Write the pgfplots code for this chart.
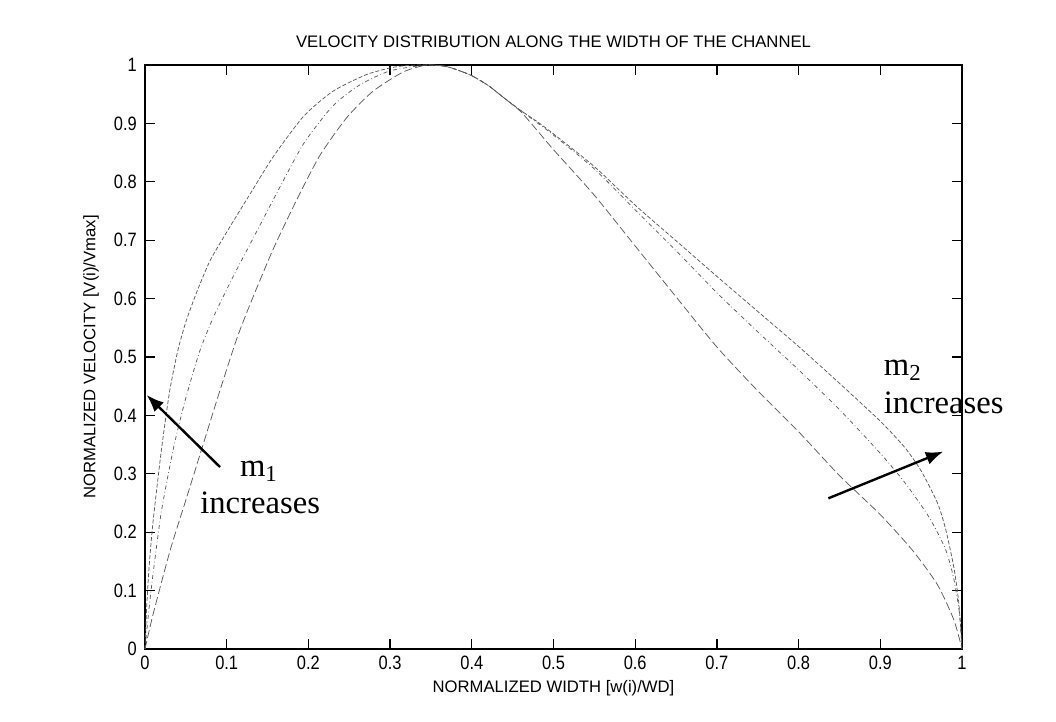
\documentclass[border=0pt]{standalone}
\usepackage{fontspec}
\setmainfont{Liberation Sans}
\newfontfamily\serif{Liberation Serif}
\newfontfamily\narrow[FakeStretch=0.85]{Liberation Sans}
\usepackage{pgfplots}
\pgfplotsset{compat=1.18}
\usetikzlibrary{arrows.meta}
\begin{document}
\begin{tikzpicture}
\useasboundingbox (0,0) rectangle (792pt,540.75pt);
\begin{axis}[
  at={(108.75pt,54pt)}, anchor=south west,
  scale only axis, width=612.75pt, height=438pt,
  xmin=0, xmax=1, ymin=0, ymax=1,
  clip=false,
  xtick={0,0.1,0.2,0.3,0.4,0.5,0.6,0.7,0.8,0.9,1},
  ytick={0,0.1,0.2,0.3,0.4,0.5,0.6,0.7,0.8,0.9,1},
  xticklabels={0,0.1,0.2,0.3,0.4,0.5,0.6,0.7,0.8,0.9,1},
  yticklabels={0,0.1,0.2,0.3,0.4,0.5,0.6,0.7,0.8,0.9,1},
  tick align=inside,
  major tick length=7.5pt,
  every tick/.style={black, line width=1pt},
  axis line style={black, line width=1.3pt},
  xticklabel style={font=\narrow\fontsize{14.5}{16}\selectfont, inner sep=0pt, anchor=north, yshift=-5.25pt},
  yticklabel style={font=\narrow\fontsize{14.5}{16}\selectfont, inner sep=0pt, anchor=east, xshift=-6pt},
  every axis title shift=0pt,
  title={VELOCITY DISTRIBUTION ALONG THE WIDTH OF THE CHANNEL},
  title style={font=\fontsize{12.5}{15}\selectfont, at={(axis description cs:0.5,1)}, anchor=base, yshift=12.75pt, inner sep=0pt},
  xlabel={NORMALIZED WIDTH [w(i)/WD]},
  xlabel style={font=\fontsize{12.5}{15}\selectfont, at={(axis description cs:0.5,-0.0668)}, anchor=center, inner sep=0pt},
  ylabel={NORMALIZED VELOCITY [V(i)/Vmax]},
  ylabel style={font=\fontsize{12.5}{15}\selectfont, at={(axis description cs:-0.0661,0.5)}, anchor=center, inner sep=0pt, rotate=0},
]
% series 1: steepest on the left, outermost on the right
\addplot[black!65, line width=0.55pt, dash pattern=on 3pt off 1.5pt, smooth, tension=0.4] coordinates {
(0,0) (0.002,0.07) (0.005,0.14) (0.01,0.22) (0.02,0.34) (0.03,0.44) (0.04,0.51) (0.05,0.56)
(0.063,0.61) (0.08,0.666) (0.104,0.723) (0.129,0.78) (0.157,0.843) (0.194,0.912) (0.23,0.955)
(0.27,0.983) (0.30,0.995) (0.32,0.999) (0.345,1.0) (0.37,0.997) (0.398,0.983) (0.42,0.965)
(0.44,0.943) (0.46,0.922) (0.48,0.903) (0.50,0.882) (0.55,0.826) (0.60,0.76) (0.65,0.699)
(0.70,0.638) (0.75,0.578) (0.80,0.518) (0.85,0.455) (0.90,0.39) (0.93,0.345) (0.95,0.305)
(0.97,0.25) (0.98,0.205) (0.99,0.14) (0.996,0.08) (1.0,0)
};
% series 2: middle
\addplot[black!65, line width=0.55pt, dash dot, smooth, tension=0.4] coordinates {
(0,0) (0.005,0.07) (0.01,0.13) (0.02,0.235) (0.035,0.345) (0.05,0.43) (0.067,0.51)
(0.084,0.569) (0.108,0.638) (0.133,0.705) (0.161,0.78) (0.194,0.865) (0.23,0.93)
(0.263,0.966) (0.30,0.99) (0.345,1.0) (0.37,0.997) (0.398,0.983) (0.42,0.965)
(0.44,0.943) (0.46,0.922) (0.48,0.901) (0.50,0.880) (0.55,0.822) (0.60,0.752) (0.65,0.682)
(0.70,0.61) (0.75,0.543) (0.80,0.478) (0.85,0.41) (0.90,0.335) (0.93,0.285) (0.96,0.225)
(0.98,0.17) (0.99,0.12) (0.997,0.06) (1,0)
};
% series 3: least steep on the left, innermost on the right
\addplot[black!65, line width=0.55pt, dash pattern=on 6pt off 2.5pt, smooth, tension=0.4] coordinates {
(0,0) (0.01,0.06) (0.031,0.17) (0.05,0.255) (0.07,0.345) (0.09,0.435) (0.112,0.53)
(0.13,0.595) (0.157,0.685) (0.186,0.77) (0.214,0.845) (0.247,0.91) (0.279,0.955)
(0.316,0.988) (0.345,1.0) (0.37,0.997) (0.398,0.983) (0.42,0.965) (0.44,0.943)
(0.46,0.920) (0.48,0.888) (0.50,0.855) (0.55,0.777) (0.60,0.69) (0.65,0.603) (0.70,0.517)
(0.75,0.442) (0.80,0.372) (0.85,0.297) (0.90,0.23) (0.94,0.168) (0.97,0.11) (0.99,0.05) (1,0)
};
% annotations
\draw[black, line width=1.8pt, -{Latex[length=13pt,width=10pt]}] (axis cs:0.0918,0.3116) -- (axis cs:0.002,0.435);
\draw[black, line width=1.8pt, -{Latex[length=13pt,width=10pt]}] (axis cs:0.8364,0.258) -- (axis cs:0.977,0.338);
\node[anchor=base west, inner sep=0pt, font=\serif\fontsize{24.5}{28}\selectfont] at (axis cs:0.116,0.295) {m\textsubscript{1}};
\node[anchor=base west, inner sep=0pt, font=\serif\fontsize{24.5}{28}\selectfont] at (axis cs:0.0673,0.232) {increases};
\node[anchor=base west, inner sep=0pt, font=\serif\fontsize{24.5}{28}\selectfont] at (axis cs:0.904,0.469) {m\textsubscript{2}};
\node[anchor=base west, inner sep=0pt, font=\serif\fontsize{24.5}{28}\selectfont] at (axis cs:0.904,0.403) {increases};
\end{axis}
\end{tikzpicture}
\end{document}
